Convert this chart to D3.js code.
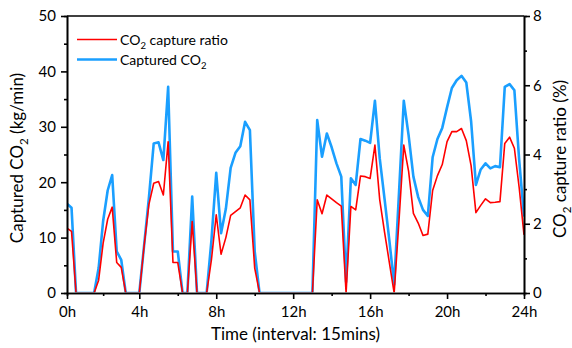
<!DOCTYPE html>
<html>
<head>
<meta charset="utf-8">
<script src="https://cdn.jsdelivr.net/npm/d3@7"></script>
<style>
  body { margin: 0; background: #fff; }
  svg { font-family: Lato, "Open Sans", sans-serif; }
  .axis path, .axis line { stroke: #000; stroke-width: 1.6px; }
  .axis text { font-size: 15px; fill: #000; font-family: Lato, sans-serif; }
</style>
</head>
<body>
<svg id="chart" width="572" height="348"></svg>
<script>
// time of day in hours, one sample every 15 minutes
var hours = d3.range(0, 24.01, 0.25);

// captured CO2 (kg/min), left axis
var captured = [
  16.1, 15.4, 0, 0, 0, 0, 0, 4.5, 13, 18.5,
  21.3, 7.5, 6, 0, 0, 0, 0, 8.6, 17.2, 27,
  27.2, 24, 37.2, 7.5, 7.5, 0, 0, 17.4, 0, 0,
  0, 9.5, 21.7, 10.8, 15.2, 22.6, 25.3, 26.5, 30.9, 29.4,
  7.5, 0, 0, 0, 0, 0, 0, 0, 0, 0,
  0, 0, 0, 31.2, 24.6, 28.8, 26.3, 23.4, 21, 2,
  20.7, 19.5, 27.8, 27.5, 27.1, 34.7, 24.3, 17, 9.5, 1.5,
  18, 34.7, 28.5, 21, 17.3, 15, 13.9, 24.5, 27.8, 29.8,
  33.5, 37, 38.4, 39.2, 38, 31, 19.5, 22.3, 23.4, 22.5,
  22.9, 22.7, 37.2, 37.7, 36.6, 24, 13.8
];

// CO2 capture ratio (%), right axis
var ratio = [
  1.87, 1.78, 0, 0, 0, 0, 0, 0.37, 1.44, 2.13,
  2.48, 0.88, 0.74, 0, 0, 0, 0, 1.36, 2.56, 3.17,
  3.22, 2.83, 4.37, 0.88, 0.88, 0, 0, 2.06, 0, 0,
  0, 0.96, 2.26, 1.12, 1.6, 2.24, 2.35, 2.46, 2.83, 2.69,
  0.72, 0, 0, 0, 0, 0, 0, 0, 0, 0,
  0, 0, 0, 2.69, 2.29, 2.83, 2.72, 2.61, 2.51, 0,
  2.5, 2.4, 3.38, 3.36, 3.31, 4.27, 2.69, 1.76, 0.88, 0,
  2.08, 4.27, 3.52, 2.3, 2.02, 1.66, 1.7, 2.96, 3.39, 3.71,
  4.37, 4.66, 4.66, 4.75, 4.4, 3.68, 2.32, 2.53, 2.72, 2.61,
  2.62, 2.64, 4.32, 4.5, 4.18, 3.04, 1.68
];

var xTicks = [0, 4, 8, 12, 16, 20, 24];
var xMinor = [2, 6, 10, 14, 18, 22];
var leftTicks = [0, 10, 20, 30, 40, 50];
var leftMinor = [5, 15, 25, 35, 45];
var rightTicks = [0, 2, 4, 6, 8];
var rightMinor = [1, 3, 5, 7];

var svg = d3.select("#chart");
svg.append("rect").attr("width", 572).attr("height", 348).attr("fill", "#fff");

// the source axis is slightly stretched before 4h, so the time scale has a break point there
var x = d3.scaleLinear().domain([0, 4, 24]).range([67, 139.3, 524]);
var yL = d3.scaleLinear().domain([0, 50]).range([293, 16]);
var yR = d3.scaleLinear().domain([0, 8]).range([293, 16]);

// clip just above the bottom axis so the zero stretches hide behind it
svg.append("clipPath").attr("id", "plot-clip")
  .append("rect").attr("x", 67).attr("y", 16).attr("width", 457).attr("height", 276.2);

var blueLine = d3.line()
  .x(function (d, i) { return x(hours[i]); })
  .y(function (d) { return yL(d); });
var redLine = d3.line()
  .x(function (d, i) { return x(hours[i]); })
  .y(function (d) { return yR(d); });

var plot = svg.append("g").attr("clip-path", "url(#plot-clip)");

plot.append("path")
  .attr("d", blueLine(captured))
  .attr("fill", "none")
  .attr("stroke", "#1A9FFF")
  .attr("stroke-width", 2.6)
  .attr("stroke-linejoin", "round");

plot.append("path")
  .attr("d", redLine(ratio))
  .attr("fill", "none")
  .attr("stroke", "#FF0000")
  .attr("stroke-width", 1.6)
  .attr("stroke-linejoin", "round");

// frame top line
svg.append("line")
  .attr("x1", 67).attr("x2", 524).attr("y1", 16).attr("y2", 16)
  .attr("stroke", "#000").attr("stroke-width", 1.6);

// minor ticks
svg.append("g").attr("class", "axis")
  .attr("transform", "translate(0,293)")
  .call(d3.axisBottom(x).tickValues(xMinor).tickSize(3).tickFormat(""));
svg.append("g").attr("class", "axis")
  .attr("transform", "translate(67,0)")
  .call(d3.axisLeft(yL).tickValues(leftMinor).tickSize(3).tickFormat(""));
svg.append("g").attr("class", "axis")
  .attr("transform", "translate(524,0)")
  .call(d3.axisRight(yR).tickValues(rightMinor).tickSize(3).tickFormat(""));

// major axes
svg.append("g").attr("class", "axis")
  .attr("transform", "translate(0,293)")
  .call(d3.axisBottom(x).tickValues(xTicks).tickSize(6).tickSizeOuter(0).tickPadding(7)
    .tickFormat(function (d) { return d + "h"; }));
svg.append("g").attr("class", "axis")
  .attr("transform", "translate(67,0)")
  .call(d3.axisLeft(yL).tickValues(leftTicks).tickSize(6).tickSizeOuter(0).tickPadding(5));
svg.append("g").attr("class", "axis")
  .attr("transform", "translate(524,0)")
  .call(d3.axisRight(yR).tickValues(rightTicks).tickSize(6).tickSizeOuter(0).tickPadding(3));

// axis titles
function subText(sel, before, sub, after, size) {
  sel.append("tspan").text(before);
  sel.append("tspan").text(sub).attr("font-size", size * 0.68).attr("dy", size * 0.3);
  sel.append("tspan").text(after).attr("dy", -size * 0.3);
}

svg.append("text")
  .attr("x", 295.5).attr("y", 340)
  .attr("text-anchor", "middle")
  .attr("font-size", 17)
  .text("Time (interval: 15mins)");

var lt = svg.append("text")
  .attr("transform", "translate(23,158) rotate(-90)")
  .attr("text-anchor", "middle")
  .attr("font-size", 17);
subText(lt, "Captured CO", "2", " (kg/min)", 17);

var rt = svg.append("text")
  .attr("transform", "translate(566,159) rotate(-90)")
  .attr("text-anchor", "middle")
  .attr("font-size", 17);
subText(rt, "CO", "2", " capture ratio (%)", 17);

// legend
var legend = [
  { pre: "CO", sub: "2", post: " capture ratio", color: "#FF0000", w: 1.6 },
  { pre: "Captured CO", sub: "2", post: "", color: "#1A9FFF", w: 2.6 }
];
legend.forEach(function (d, i) {
  var yy = 39.5 + i * 20;
  svg.append("line")
    .attr("x1", 77).attr("x2", 117).attr("y1", yy).attr("y2", yy)
    .attr("stroke", d.color).attr("stroke-width", d.w);
  var t = svg.append("text")
    .attr("x", 120).attr("y", yy + 5)
    .attr("font-size", 14);
  subText(t, d.pre, d.sub, d.post, 14);
});
</script>
</body>
</html>
